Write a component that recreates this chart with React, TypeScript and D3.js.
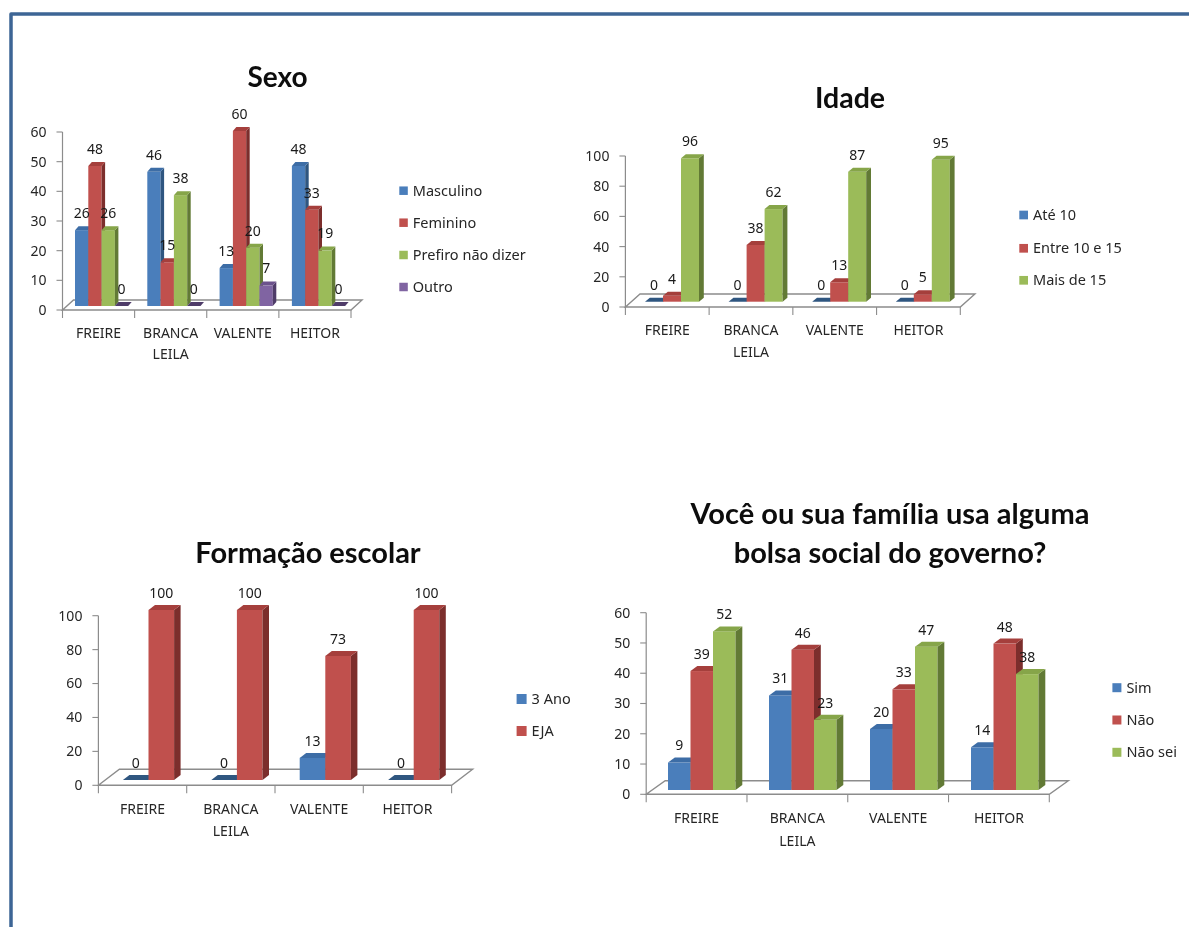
import React from "react";
import * as d3 from "d3";

const categories = [["FREIRE"], ["BRANCA", "LEILA"], ["VALENTE"], ["HEITOR"]];

const sexoSeries = ["Masculino", "Feminino", "Prefiro não dizer", "Outro"];
const sexoValues = [
  [26, 46, 13, 48],
  [48, 15, 60, 33],
  [26, 38, 20, 19],
  [0, 0, 7, 0],
];
const sexoTicks = [0, 10, 20, 30, 40, 50, 60];

const idadeSeries = ["Até 10", "Entre 10 e 15", "Mais de 15"];
const idadeValues = [
  [0, 0, 0, 0],
  [4, 38, 13, 5],
  [96, 62, 87, 95],
];
const idadeTicks = [0, 20, 40, 60, 80, 100];

const formacaoSeries = ["3 Ano", "EJA"];
const formacaoValues = [
  [0, 0, 13, 0],
  [100, 100, 73, 100],
];

const bolsaSeries = ["Sim", "Não", "Não sei"];
const bolsaValues = [
  [9, 31, 20, 14],
  [39, 46, 33, 48],
  [52, 23, 47, 38],
];
const bolsaTicks = [0, 10, 20, 30, 40, 50, 60];

const palette = [
  { front: "#4a7ebb", top: "#3d6da6", side: "#2f5680" },
  { front: "#c0504d", top: "#a53f3c", side: "#7c2e2c" },
  { front: "#9bbb59", top: "#86a549", side: "#627a35" },
  { front: "#8064a2", top: "#6c528c", side: "#4f3c69" },
];

const FONT = "'Noto Sans', sans-serif";
const TITLE_FONT = "Lato, 'Noto Sans', sans-serif";

type Layout = {
  axisX: number; axisY0: number; axisYTop: number; axisEnd: number;
  floorDx: number; floorDy: number;
  barBase: number; barTop: number; barStart: number; groupStep: number; barW: number;
  dx: number; dy: number;
  catY: number; catY2: number;
  legendX: number; legendYs: number[]; legendSize: number;
};

function Chart({ series, values, ticks, layout }: { series: string[]; values: number[][]; ticks: number[]; layout: Layout }) {
  const L = layout;
  const maxTick = ticks[ticks.length - 1];
  const axisScale = d3.scaleLinear().domain([0, maxTick]).range([L.axisY0, L.axisYTop]);
  const barScale = d3.scaleLinear().domain([0, maxTick]).range([L.barBase, L.barTop]);
  const catScale = d3.scaleLinear().domain([0, categories.length]).range([L.axisX, L.axisEnd]);
  const groupX = d3.scaleLinear().domain([0, 1]).range([L.barStart, L.barStart + L.groupStep]);
  const line = d3.line();
  const axisColor = "#8c8c8c";
  const poly = (pts: [number, number][]) => line(pts) + "Z";

  const bars: React.ReactNode[] = [];
  const labels: React.ReactNode[] = [];
  categories.forEach((_, c) => {
    series.forEach((_, s) => {
      const v = values[s][c];
      const x0 = groupX(c) + s * L.barW;
      const x1 = x0 + L.barW;
      const yT = barScale(v);
      const col = palette[s];
      bars.push(
        <g key={`${c}-${s}`}>
          {v > 0 && <rect x={x0} y={yT} width={L.barW} height={L.barBase - yT} fill={col.front} />}
          {v > 0 && (
            <path d={poly([[x1, yT], [x1 + L.dx, yT - L.dy], [x1 + L.dx, L.barBase - L.dy], [x1, L.barBase]])} fill={col.side} />
          )}
          <path d={poly([[x0, yT], [x0 + L.dx, yT - L.dy], [x1 + L.dx, yT - L.dy], [x1, yT]])} fill={v > 0 ? col.top : col.side} />
        </g>
      );
      labels.push(
        <text key={`l${c}-${s}`} x={(x0 + x1) / 2} y={yT - 17} dy="0.35em" textAnchor="middle" fontSize={14} fill="#1a1a1a">{v}</text>
      );
    });
  });

  return (
    <g fontFamily={FONT}>
      <path
        d={poly([[L.axisX, L.axisY0], [L.axisEnd, L.axisY0], [L.axisEnd + L.floorDx, L.axisY0 - L.floorDy], [L.axisX + L.floorDx, L.axisY0 - L.floorDy]])}
        fill="#ffffff" stroke={axisColor} strokeWidth={1.4}
      />
      <line x1={L.axisX} x2={L.axisX} y1={L.axisY0} y2={L.axisYTop} stroke={axisColor} strokeWidth={1.2} />
      {ticks.map((t) => (
        <g key={t}>
          <line x1={L.axisX - 6} x2={L.axisX} y1={axisScale(t)} y2={axisScale(t)} stroke={axisColor} strokeWidth={1.1} />
          <text x={L.axisX - 16} y={axisScale(t)} dy="0.35em" textAnchor="end" fontSize={14} fill="#262626">{t}</text>
        </g>
      ))}
      {d3.range(categories.length + 1).map((i) => (
        <line key={i} x1={catScale(i)} x2={catScale(i)} y1={L.axisY0} y2={L.axisY0 + 8} stroke={axisColor} strokeWidth={1.1} />
      ))}
      {categories.map((lines, i) =>
        lines.map((t, j) => (
          <text key={t} x={catScale(i + 0.5)} y={j === 0 ? L.catY : L.catY2} dy="0.35em" textAnchor="middle" fontSize={14} fill="#262626">{t}</text>
        ))
      )}
      {bars}
      {labels}
      {series.map((name, s) => (
        <g key={name}>
          <rect x={L.legendX} y={L.legendYs[s] - L.legendSize / 2} width={L.legendSize} height={L.legendSize} fill={palette[s].front} />
          <text x={L.legendX + L.legendSize + 5} y={L.legendYs[s]} dy="0.35em" fontSize={14.5} fill="#262626">{name}</text>
        </g>
      ))}
    </g>
  );
}

const Title = ({ x, y, lines, size }: { x: number; y: number[]; lines: string[]; size: number }) => (
  <g fontFamily={TITLE_FONT} fontWeight={700} fontSize={size} fill="#0d0d0d" textAnchor="middle">
    {lines.map((t, i) => (
      <text key={t} x={x} y={y[i]} dy="0.35em">{t}</text>
    ))}
  </g>
);

export default function App() {
  return (
    <svg width={1189} height={927} style={{ position: "absolute", left: 0, top: 0, background: "#fff", filter: "blur(0.4px)" }}>
      <path d="M11 927V14H1189" fill="none" stroke="#3d6595" strokeWidth={3.5} strokeLinejoin="round" />
      <Title x={277.5} y={[77]} lines={["Sexo"]} size={28} />
      <Title x={850} y={[97.7]} lines={["Idade"]} size={28.5} />
      <Title x={308} y={[553]} lines={["Formação escolar"]} size={29} />
      <Title x={890} y={[514, 553]} lines={["Você ou sua família usa alguma", "bolsa social do governo?"]} size={29} />
      <Chart series={sexoSeries} values={sexoValues} ticks={sexoTicks} layout={{
        axisX: 62.5, axisY0: 310, axisYTop: 132, axisEnd: 351, floorDx: 11, floorDy: 10,
        barBase: 306, barTop: 131, barStart: 75, groupStep: 72.3, barW: 13.3, dx: 3.5, dy: 4,
        catY: 332.7, catY2: 354, legendX: 399.3, legendYs: [190.7, 222.7, 255, 287], legendSize: 8.5,
      }} />
      <Chart series={idadeSeries} values={idadeValues} ticks={idadeTicks} layout={{
        axisX: 625.4, axisY0: 307, axisYTop: 156, axisEnd: 960.3, floorDx: 14.6, floorDy: 13,
        barBase: 301.7, barTop: 152.3, barStart: 645, groupStep: 83.6, barW: 18, dx: 4.8, dy: 4,
        catY: 330, catY2: 351.7, legendX: 1019.3, legendYs: [215, 248.3, 280.3], legendSize: 8.7,
      }} />
      <Chart series={formacaoSeries} values={formacaoValues} ticks={idadeTicks} layout={{
        axisX: 98.4, axisY0: 785.3, axisYTop: 615.7, axisEnd: 451.6, floorDx: 21, floorDy: 16,
        barBase: 780, barTop: 610, barStart: 122.9, groupStep: 88.4, barW: 25.6, dx: 6.5, dy: 5,
        catY: 809.3, catY2: 831.3, legendX: 516.6, legendYs: [699, 731], legendSize: 10,
      }} />
      <Chart series={bolsaSeries} values={bolsaValues} ticks={bolsaTicks} layout={{
        axisX: 646.2, axisY0: 794.3, axisYTop: 612.7, axisEnd: 1049.3, floorDx: 19, floorDy: 13.6,
        barBase: 790, barTop: 607, barStart: 668, groupStep: 101, barW: 22.5, dx: 6.8, dy: 5,
        catY: 818, catY2: 840.7, legendX: 1112.4, legendYs: [687.7, 720, 752.3], legendSize: 9,
      }} />
    </svg>
  );
}
